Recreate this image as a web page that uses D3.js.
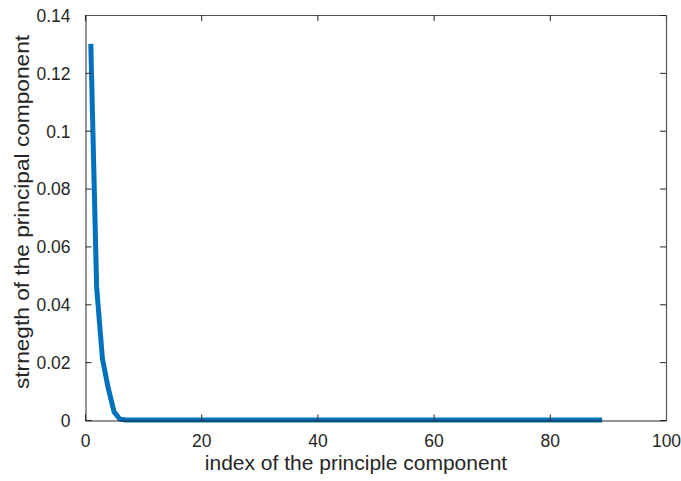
<!DOCTYPE html>
<html>
<head>
<meta charset="utf-8">
<script src="https://cdn.jsdelivr.net/npm/d3@7"></script>
<style>
  html, body { margin: 0; padding: 0; background: #fff; }
  svg { display: block; }
  text { font-family: "Liberation Sans", Arial, Helvetica, sans-serif; fill: #262626; }
</style>
</head>
<body>
<svg id="chart" width="681" height="481"></svg>
<script>
// Strength of each principal component, indexed 1..89
const componentIndex = d3.range(1, 90);
const componentStrength = [
  0.1300, 0.0460, 0.0212, 0.0110, 0.0028, 0.0003, 0.0000, 0.0000, 0.0000, 0.0000,
  0.0000, 0.0000, 0.0000, 0.0000, 0.0000, 0.0000, 0.0000, 0.0000, 0.0000, 0.0000,
  0.0000, 0.0000, 0.0000, 0.0000, 0.0000, 0.0000, 0.0000, 0.0000, 0.0000, 0.0000,
  0.0000, 0.0000, 0.0000, 0.0000, 0.0000, 0.0000, 0.0000, 0.0000, 0.0000, 0.0000,
  0.0000, 0.0000, 0.0000, 0.0000, 0.0000, 0.0000, 0.0000, 0.0000, 0.0000, 0.0000,
  0.0000, 0.0000, 0.0000, 0.0000, 0.0000, 0.0000, 0.0000, 0.0000, 0.0000, 0.0000,
  0.0000, 0.0000, 0.0000, 0.0000, 0.0000, 0.0000, 0.0000, 0.0000, 0.0000, 0.0000,
  0.0000, 0.0000, 0.0000, 0.0000, 0.0000, 0.0000, 0.0000, 0.0000, 0.0000, 0.0000,
  0.0000, 0.0000, 0.0000, 0.0000, 0.0000, 0.0000, 0.0000, 0.0000, 0.0000
];
const xTicks = [0, 20, 40, 60, 80, 100];
const yTicks = [0, 0.02, 0.04, 0.06, 0.08, 0.1, 0.12, 0.14];
const xLabel = "index of the principle component";
const yLabel = "strnegth of the principal component";

const svg = d3.select("#chart");
const plot = { left: 85, top: 15, right: 666, bottom: 420 };

const x = d3.scaleLinear().domain([0, 100]).range([plot.left, plot.right]);
const y = d3.scaleLinear().domain([0, 0.14]).range([plot.bottom, plot.top]);

const axisColor = "#262626";
const tickLen = 6;

// Data line
const series = componentIndex.map((k, i) => ({ k, v: componentStrength[i] }));
svg.append("path")
  .datum(series)
  .attr("fill", "none")
  .attr("stroke", "#0072BD")
  .attr("stroke-width", 5)
  .attr("stroke-linejoin", "round")
  .attr("d", d3.line().x(d => x(d.k)).y(d => y(d.v)));

// Bottom axis (ticks pointing inward)
const bottomAxis = svg.append("g")
  .attr("transform", `translate(0,${plot.bottom + 0.5})`)
  .call(d3.axisBottom(x).tickValues(xTicks).tickSize(-tickLen).tickPadding(tickLen + 8)
    .tickFormat(d3.format("d")));
// Left axis
const leftAxis = svg.append("g")
  .attr("transform", `translate(${plot.left + 0.5},0)`)
  .call(d3.axisLeft(y).tickValues(yTicks).tickSize(-tickLen).tickPadding(tickLen + 9)
    .tickFormat(d => d === 0 ? "0" : String(+d.toFixed(2))));
// Top and right box edges with ticks
const topAxis = svg.append("g")
  .attr("transform", `translate(0,${plot.top})`)
  .call(d3.axisTop(x).tickValues(xTicks).tickSize(-tickLen).tickFormat(""));
const rightAxis = svg.append("g")
  .attr("transform", `translate(${plot.right},0)`)
  .call(d3.axisRight(y).tickValues(yTicks).tickSize(-tickLen).tickFormat(""));

[bottomAxis, leftAxis, topAxis, rightAxis].forEach(g => {
  g.select(".domain").attr("stroke", axisColor).attr("stroke-width", 1);
  g.selectAll(".tick line").attr("stroke", axisColor).attr("stroke-width", 1);
  g.selectAll(".tick text")
    .attr("font-family", '"Liberation Sans", Arial, sans-serif')
    .attr("font-size", 17.5)
    .attr("fill", axisColor);
});
[topAxis, rightAxis].forEach(g => g.select(".domain").attr("stroke-width", 1.2).attr("stroke", "#555"));
leftAxis.selectAll(".tick text").attr("dy", "0.36em");

// Axis titles
svg.append("text")
  .attr("x", 356)
  .attr("y", 470)
  .attr("text-anchor", "middle")
  .attr("font-size", 21)
  .text(xLabel);

svg.append("text")
  .attr("transform", `translate(29,212) rotate(-90) scale(1.08,1)`)
  .attr("text-anchor", "middle")
  .attr("font-size", 21)
  .text(yLabel);
</script>
</body>
</html>
